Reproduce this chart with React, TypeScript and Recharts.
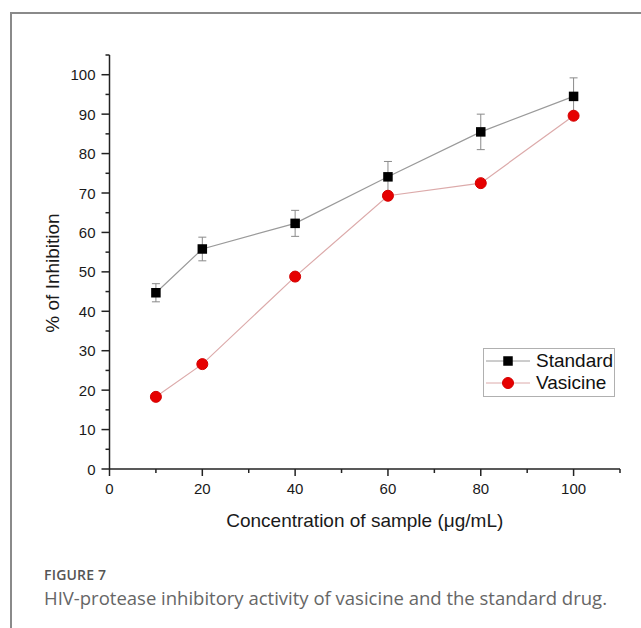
import React from 'react';
import { ComposedChart, Line, XAxis, YAxis, ErrorBar, Legend, Label } from 'recharts';

const concentrations = [10, 20, 40, 60, 80, 100];
const standardValues = [44.7, 55.8, 62.3, 74.1, 85.5, 94.5];
const standardErrors = [2.3, 3.0, 3.3, 3.9, 4.5, 4.7];
const vasicineValues = [18.3, 26.6, 48.8, 69.3, 72.5, 89.6];

const xTicks = [0, 10, 20, 30, 40, 50, 60, 70, 80, 90, 100, 110];
const xLabelTicks = [0, 20, 40, 60, 80, 100];
const yTicks = [0, 5, 10, 15, 20, 25, 30, 35, 40, 45, 50, 55, 60, 65, 70, 75, 80, 85, 90, 95, 100, 105];
const yLabelTicks = [0, 10, 20, 30, 40, 50, 60, 70, 80, 90, 100];

const data = concentrations.map((c, i) => ({
  conc: c,
  standard: standardValues[i],
  standardErr: standardErrors[i],
  vasicine: vasicineValues[i],
}));

const FONT = '"Liberation Sans", Arial, sans-serif';
const AXIS = '#222';

const XTick = (props: any) => {
  const { x, y, payload } = props;
  const major = xLabelTicks.includes(payload.value);
  return (
    <g>
      <line x1={x} y1={y} x2={x} y2={y + (major ? 7 : 4)} stroke={AXIS} strokeWidth={1.5} />
      {major && (
        <text x={x} y={y + 25} textAnchor="middle" fontSize={15} fontFamily={FONT} fill="#1a1a1a">
          {payload.value}
        </text>
      )}
    </g>
  );
};

const YTick = (props: any) => {
  const { x, y, payload } = props;
  const major = yLabelTicks.includes(payload.value);
  return (
    <g>
      <line x1={x - (major ? 8 : 4)} y1={y} x2={x} y2={y} stroke={AXIS} strokeWidth={1.5} />
      {major && (
        <text x={x - 14} y={y + 5.5} textAnchor="end" fontSize={15} fontFamily={FONT} fill="#1a1a1a">
          {payload.value}
        </text>
      )}
    </g>
  );
};

const SquareDot = (props: any) => {
  const { cx, cy } = props;
  if (cx == null || cy == null) return null;
  return <rect x={cx - 4.75} y={cy - 4.75} width={9.5} height={9.5} fill="#000" />;
};

const CircleDot = (props: any) => {
  const { cx, cy } = props;
  if (cx == null || cy == null) return null;
  return <circle cx={cx} cy={cy} r={5.5} fill="#e60000" stroke="#d40000" strokeWidth={1} />;
};

const legendItems = [
  { name: 'Standard', line: '#9a9a9a', kind: 'square' },
  { name: 'Vasicine', line: '#dcaaaa', kind: 'circle' },
];

const LegendBox = () => (
  <div
    style={{
      width: 130,
      height: 46,
      border: '1px solid #b0b0b0',
      background: '#fff',
      boxSizing: 'content-box',
      fontFamily: FONT,
      paddingTop: 1,
    }}
  >
    {legendItems.map((it) => (
      <div key={it.name} style={{ display: 'flex', alignItems: 'center', height: 22 }}>
        <svg width={50} height={14} style={{ marginLeft: 2 }}>
          <line x1={0} y1={7} x2={44} y2={7} stroke={it.line} strokeWidth={1} />
          {it.kind === 'square' ? (
            <rect x={17.25} y={2.25} width={9.5} height={9.5} fill="#000" />
          ) : (
            <circle cx={22} cy={7} r={5.5} fill="#e60000" stroke="#d40000" strokeWidth={1} />
          )}
        </svg>
        <span style={{ fontSize: 19, color: '#111', lineHeight: '22px' }}>{it.name}</span>
      </div>
    ))}
  </div>
);

export default function App() {
  return (
    <div style={{ position: 'absolute', left: 0, top: 0, width: 641, height: 628, background: '#fff', overflow: 'hidden' }}>
      <div
        style={{
          position: 'absolute',
          left: 10,
          top: 12,
          width: 700,
          height: 700,
          borderLeft: '2px solid #8a8a8a',
          borderTop: '2px solid #8a8a8a',
        }}
      />
      <div style={{ position: 'absolute', left: 0, top: 0 }}>
        <ComposedChart width={641} height={560} data={data} margin={{ top: 55, right: 21, left: 0, bottom: 0 }}>
          <XAxis
            dataKey="conc"
            type="number"
            domain={[0, 110]}
            ticks={xTicks}
            interval={0}
            height={91}
            tickSize={0}
            tickMargin={0}
            tickLine={false}
            tick={<XTick />}
            axisLine={{ stroke: AXIS, strokeWidth: 1.5 }}
          >
            <Label
              content={(p: any) => {
                const vb = p.viewBox;
                return (
                  <text
                    x={vb.x + vb.width / 2}
                    y={vb.y + 58}
                    textAnchor="middle"
                    fontSize={19}
                    fontFamily={FONT}
                    fill="#1a1a1a"
                  >
                    Concentration of sample (μg/mL)
                  </text>
                );
              }}
            />
          </XAxis>
          <YAxis
            type="number"
            domain={[0, 105]}
            ticks={yTicks}
            interval={0}
            width={109.5}
            tickSize={0}
            tickMargin={0}
            tickLine={false}
            tick={<YTick />}
            axisLine={{ stroke: AXIS, strokeWidth: 1.5 }}
          >
            <Label
              content={() => {
                const cx = 52;
                const cy = 273;
                return (
                  <text
                    x={cx}
                    y={cy}
                    dy="0.35em"
                    transform={`rotate(-90, ${cx}, ${cy})`}
                    textAnchor="middle"
                    fontSize={19}
                    fontFamily={FONT}
                    fill="#1a1a1a"
                  >
                    % of Inhibition
                  </text>
                );
              }}
            />
          </YAxis>
          <Legend
            layout="horizontal"
            verticalAlign="middle"
            align="center"
            content={() => <LegendBox />}
            wrapperStyle={{ position: 'absolute', left: 483, top: 348, width: 132, height: 48 }}
          />
          <Line
            dataKey="standard"
            name="Standard"
            stroke="#9a9a9a"
            strokeWidth={1.2}
            dot={<SquareDot />}
            activeDot={false}
            isAnimationActive={false}
          >
            <ErrorBar dataKey="standardErr" direction="y" width={4} stroke="#8a8a8a" strokeWidth={1} />
          </Line>
          <Line
            dataKey="vasicine"
            name="Vasicine"
            stroke="#dcaaaa"
            strokeWidth={1.2}
            dot={<CircleDot />}
            activeDot={false}
            isAnimationActive={false}
          />
        </ComposedChart>
      </div>
      <div
        style={{
          position: 'absolute',
          left: 44,
          top: 566,
          fontFamily: '"Open Sans", "Noto Sans", sans-serif',
          fontSize: 14,
          fontWeight: 600,
          color: '#555',
          letterSpacing: 0.2,
          lineHeight: '18px',
        }}
      >
        FIGURE 7
      </div>
      <div
        style={{
          position: 'absolute',
          left: 44,
          top: 586,
          fontFamily: '"Open Sans", "Noto Sans", sans-serif',
          fontSize: 18.5,
          fontWeight: 400,
          color: '#666',
          lineHeight: '24px',
          whiteSpace: 'nowrap',
        }}
      >
        HIV-protease inhibitory activity of vasicine and the standard drug.
      </div>
    </div>
  );
}
